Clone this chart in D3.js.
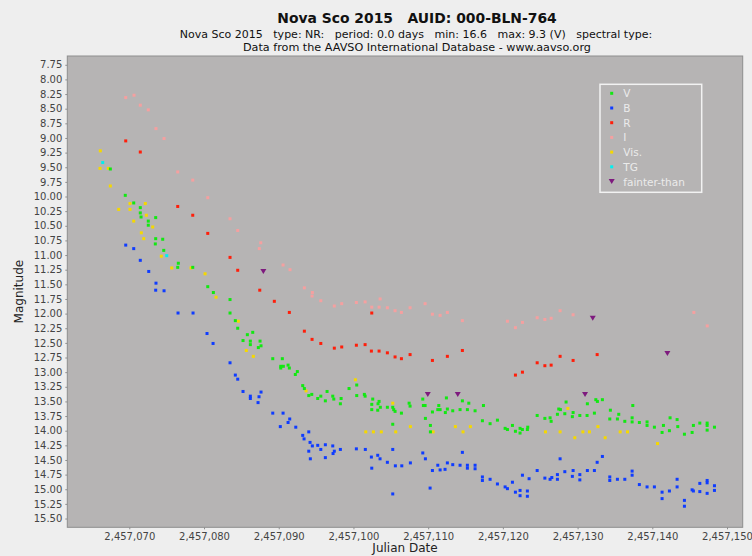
<!DOCTYPE html>
<meta charset="utf-8">
<html lang="en">
<head>
<title>Nova Sco 2015 light curve</title>
<style>
  body { margin: 0; background: #eeeeee; }
  svg { display: block; font-family: "DejaVu Sans", sans-serif; }
</style>
</head>
<body>
<div id="chart"></div>

<script src="https://cdn.jsdelivr.net/npm/d3@7"></script>
<script>
// all dates below are JD - 2457000
const JD0 = 2457000;

// observations per band: [day, magnitude]
var vBand = [[67.46,9.53],[69.46,9.98],[70.59,10.11],[71.47,10.19],[71.47,10.28],[71.57,10.35],[73.53,10.36],[72.54,10.42],[72.54,10.49],
  [73.53,10.72],[74.47,10.73],[73.48,10.81],[74.61,10.92],[76.56,11.14],[76.48,11.21],[78.49,11.21],[80.50,11.54],[81.25,11.64],
  [83.48,11.76],[83.48,11.99],[84.19,12.12],[84.51,12.25],[85.80,12.36],[86.52,12.32],[85.22,12.46],[86.20,12.47],[86.20,12.53],
  [87.50,12.47],[87.63,12.55],[87.27,12.58],[89.20,12.77],[90.48,12.77],[90.27,12.90],[90.27,12.93],[90.62,12.90],[91.25,12.88],
  [91.42,12.93],[92.49,12.99],[92.22,13.04],[93.21,13.23],[93.43,13.28],[94.02,13.40],[94.42,13.38],[95.63,13.41],[95.22,13.45],
  [96.47,13.33],[96.24,13.49],[97.23,13.41],[97.37,13.46],[98.35,13.45],[98.25,13.54],[99.41,13.28],[100.44,13.22],[100.44,13.40],
  [101.46,13.38],[101.56,13.41],[102.58,13.46],[102.45,13.55],[102.45,13.64],[103.43,13.50],[103.29,13.54],[103.60,13.60],
  [103.25,13.65],[104.54,13.60],[105.26,13.60],[105.39,13.64],[105.57,13.67],[106.42,13.70],[107.45,13.53],[107.58,13.58],
  [109.28,13.46],[109.36,13.57],[109.59,13.57],[110.57,13.68],[111.42,13.57],[111.29,13.64],[111.60,13.64],[112.30,13.69],
  [112.44,13.44],[112.57,13.63],[113.29,13.66],[114.27,13.64],[114.58,13.49],[115.25,13.64],[115.44,13.53],[116.28,13.66],
  [109.63,13.79],[110.30,13.91],[105.26,13.89],[110.30,14.02],[117.40,13.57],[117.26,13.83],[118.29,13.88],[119.27,13.82],
  [120.30,13.96],[120.61,13.98],[121.28,13.91],[121.68,14.01],[122.30,13.96],[122.61,13.98],[122.30,14.04],[123.33,13.94],
  [123.28,13.98],[124.59,13.74],[125.62,13.79],[126.32,13.78],[126.46,13.84],[127.30,13.72],[127.48,13.63],[127.70,13.64],
  [128.29,13.71],[128.46,13.51],[129.30,13.76],[129.40,13.69],[130.30,13.74],[131.31,13.54],[131.27,13.74],[132.25,13.70],
  [132.44,13.47],[132.65,13.50],[133.32,13.47],[134.39,13.65],[134.31,13.80],[135.33,13.80],[135.51,13.72],[136.32,13.84],
  [137.30,13.78],[137.30,13.85],[137.39,13.57],[138.27,13.86],[139.30,13.85],[139.30,13.91],[140.28,13.94],[141.31,14.03],
  [141.49,13.91],[142.29,14.00],[142.38,13.78],[143.32,13.81],[143.41,13.93],[144.30,14.06],[145.33,14.03],[145.50,13.91],
  [146.36,13.87],[147.34,13.87],[147.34,13.91],[147.34,13.99],[148.32,13.94]];

var bBand = [[69.52,10.83],[70.59,10.89],[71.47,11.09],[72.60,11.28],[73.57,11.48],[73.53,11.60],[74.65,11.61],[76.52,11.99],
  [78.53,11.99],[80.40,12.34],[81.21,12.51],[83.48,12.84],[84.19,13.05],[84.51,13.12],[85.22,13.33],[86.20,13.41],[86.20,13.45],
  [87.36,13.42],[87.63,13.34],[87.23,13.52],[89.20,13.70],[90.58,13.70],[91.47,13.80],[91.25,13.86],[90.21,13.93],[92.28,13.94],
  [94.02,14.02],[93.21,14.08],[93.39,14.14],[94.19,14.20],[94.50,14.26],[95.22,14.25],[96.24,14.24],[95.63,14.32],[94.02,14.35],
  [94.23,14.48],[96.24,14.46],[97.23,14.26],[97.44,14.35],[97.27,14.39],[98.25,14.32],[100.39,14.31],[101.59,14.32],[102.40,14.45],
  [103.25,14.42],[103.56,14.48],[104.54,14.54],[105.26,14.32],[102.45,14.64],[105.61,14.60],[106.47,14.60],[107.62,14.55],
  [109.28,14.38],[109.63,14.48],[110.57,14.68],[111.29,14.59],[111.60,14.67],[112.26,14.66],[112.57,14.55],[113.29,14.58],
  [114.27,14.59],[114.58,14.37],[115.25,14.59],[115.25,14.64],[116.28,14.59],[116.28,14.65],[105.26,15.08],[110.26,14.98],
  [117.26,14.79],[117.26,14.85],[118.29,14.83],[119.27,14.91],[120.30,14.96],[120.61,14.99],[121.28,14.88],[121.68,15.05],
  [122.30,15.02],[122.30,15.11],[123.28,15.03],[123.28,15.12],[122.62,14.76],[123.51,14.82],[124.59,14.68],[125.62,14.81],
  [126.32,14.83],[126.55,14.80],[127.30,14.75],[127.30,14.83],[127.66,14.48],[128.29,14.70],[129.30,14.78],[129.40,14.68],
  [130.30,14.75],[130.30,14.84],[131.31,14.68],[132.25,14.68],[132.62,14.54],[133.32,14.44],[134.31,14.79],[134.31,14.85],
  [135.33,14.83],[136.32,14.83],[137.30,14.69],[137.30,14.76],[138.27,14.92],[139.30,14.96],[140.28,14.96],[141.31,15.05],
  [141.31,15.16],[142.29,15.03],[143.32,14.83],[143.32,14.96],[144.30,15.19],[144.30,15.29],[145.33,15.01],[145.50,15.03],
  [146.36,14.90],[146.36,15.04],[147.34,14.85],[147.34,14.89],[147.34,15.07],[148.32,14.94],[148.32,15.02]];

var rBand = [[69.52,9.05],[71.47,9.24],[76.48,10.17],[78.49,10.32],[80.50,10.63],[83.48,11.04],[84.51,11.26],[87.46,11.60],
  [89.41,11.79],[91.42,11.98],[93.43,12.30],[94.46,12.44],[95.63,12.51],[97.44,12.59],[98.43,12.57],[100.39,12.54],[101.56,12.53],
  [102.45,11.99],[102.40,12.64],[103.43,12.64],[104.54,12.67],[105.57,12.74],[106.42,12.77],[107.58,12.70],[110.57,12.80],
  [112.57,12.73],[114.58,12.63],[121.68,13.05],[122.62,13.00],[124.59,12.84],[125.62,12.89],[126.46,12.88],[127.66,12.73],
  [129.40,12.80],[132.62,12.70]];

var iBand = [[69.52,8.31],[70.63,8.27],[71.47,8.44],[72.54,8.52],[73.57,8.84],[74.65,9.01],[76.48,9.58],[78.49,9.72],[80.50,10.02],
  [83.48,10.38],[84.51,10.58],[87.59,10.79],[87.40,10.89],[90.58,11.17],[91.51,11.25],[93.43,11.56],[94.50,11.64],[94.46,11.70],
  [95.63,11.78],[97.44,11.87],[98.43,11.83],[100.39,11.81],[101.56,11.80],[102.45,11.89],[103.57,11.75],[103.43,11.89],
  [104.54,11.90],[105.57,11.95],[106.42,11.98],[107.58,11.90],[109.59,11.83],[110.57,12.01],[111.60,12.03],[112.57,11.98],
  [114.58,12.12],[120.61,12.13],[121.68,12.24],[122.62,12.15],[124.59,12.07],[125.62,12.10],[126.46,12.08],[127.66,11.95],
  [129.40,12.02],[145.56,11.98],[147.35,12.21]];

var visual = [[66.12,9.22],[66.08,9.52],[67.19,9.52],[67.46,9.82],[68.58,10.22],[70.09,10.12],[70.09,10.22],[72.14,10.12],
  [72.28,10.32],[70.59,10.42],[73.13,10.52],[71.61,10.62],[71.93,10.72],[74.28,11.02],[75.68,11.22],[78.26,11.22],[80.14,11.32],
  [81.61,11.72],[84.59,12.13],[85.66,12.63],[86.60,12.73],[93.66,13.32],[100.26,13.13],[105.26,13.53],[101.65,14.02],[102.67,14.02],
  [103.73,14.02],[105.66,14.02],[107.62,13.93],[110.66,14.02],[113.64,13.93],[114.67,14.02],[115.65,13.93],[125.70,14.02],
  [127.66,14.02],[128.70,13.62],[129.63,14.12],[130.71,14.02],[131.59,14.02],[132.72,13.93],[133.69,14.12],[135.70,14.02],
  [136.68,14.02],[140.70,14.22]];

var tgBand = [[66.44,9.42],[75.01,11.01]];

var fainter = [[87.94,11.28],[109.95,13.38],[113.96,13.38],[131.00,13.38],[132.03,12.08],[142.02,12.68]];

var seriesNames = ["V", "B", "R", "I", "Vis.", "TG", "fainter-than"];
var xTicks = [2457070, 2457080, 2457090, 2457100, 2457110, 2457120, 2457130, 2457140, 2457150];
var yTicks = [7.75, 8.00, 8.25, 8.50, 8.75, 9.00, 9.25, 9.50, 9.75, 10.00, 10.25, 10.50, 10.75, 11.00, 11.25, 11.50, 11.75,
  12.00, 12.25, 12.50, 12.75, 13.00, 13.25, 13.50, 13.75, 14.00, 14.25, 14.50, 14.75, 15.00, 15.25, 15.50];

// colours for each series, same order as seriesNames
var colors = ["#12e812", "#0f3cff", "#ff1e0a", "#f5a0a0", "#f5d800", "#00f0f0", "#7e1a7e"];
var allSeries = [vBand, bBand, rBand, iBand, visual, tgBand, fainter];

var width = 752, height = 556;
var plot = { left: 67.3, right: 742.7, top: 56, bottom: 527.3 };

var svg = d3.select("#chart").append("svg")
    .attr("width", width)
    .attr("height", height);

svg.append("rect").attr("width", width).attr("height", height).attr("fill", "#eeeeee");

var x = d3.scaleLinear()
    .domain([JD0 + 61.7, JD0 + 152.1])
    .range([plot.left, plot.right]);

// magnitudes grow downward
var y = d3.scaleLinear()
    .domain([7.60, 15.65])
    .range([plot.top, plot.bottom]);

// titles
svg.append("text").attr("x", 417).attr("y", 23).attr("text-anchor", "middle")
    .attr("font-size", 13.9).attr("font-weight", "bold").attr("fill", "#111")
    .attr("xml:space", "preserve")
    .text("Nova Sco 2015   AUID: 000-BLN-764");
svg.append("text").attr("x", 416).attr("y", 38).attr("text-anchor", "middle")
    .attr("font-size", 11).attr("fill", "#111")
    .attr("xml:space", "preserve")
    .text("Nova Sco 2015   type: NR:   period: 0.0 days   min: 16.6   max: 9.3 (V)   spectral type:");
svg.append("text").attr("x", 417).attr("y", 51).attr("text-anchor", "middle")
    .attr("font-size", 11.2).attr("fill", "#111")
    .text("Data from the AAVSO International Database - www.aavso.org");

// plot area
svg.append("rect")
    .attr("x", plot.left).attr("y", plot.top)
    .attr("width", plot.right - plot.left).attr("height", plot.bottom - plot.top)
    .attr("fill", "#b6b4b4")
    .attr("stroke", "#8e8e8e").attr("stroke-width", 1);

// axes
var xAxis = d3.axisBottom(x).tickValues(xTicks).tickFormat(d3.format(",")).tickSize(2).tickPadding(4);
var yAxis = d3.axisLeft(y).tickValues(yTicks).tickFormat(d3.format(".2f")).tickSize(2).tickPadding(3);

var gx = svg.append("g").attr("transform", "translate(0," + plot.bottom + ")").call(xAxis);
var gy = svg.append("g").attr("transform", "translate(" + plot.left + ",0)").call(yAxis);
[gx, gy].forEach(function (g) {
    g.select(".domain").remove();
    g.selectAll("line").attr("stroke", "#8e8e8e");
    g.selectAll("text").attr("font-family", "DejaVu Sans, sans-serif").attr("font-size", 10).attr("fill", "#444");
});

// sits at the very bottom edge, as in the original export
svg.append("text").attr("x", (plot.left + plot.right) / 2).attr("y", 552)
    .attr("text-anchor", "middle").attr("font-size", 12).attr("fill", "#222")
    .text("Julian Date");
svg.append("text")
    .attr("transform", "translate(23," + (plot.top + plot.bottom) / 2 + ")rotate(-90)")
    .attr("text-anchor", "middle").attr("font-size", 12).attr("fill", "#222")
    .text("Magnitude");

// markers: later series first so V ends up on top
var marks = svg.append("g");
var tri = "M-3,-2.5L3,-2.5L0,2.5Z";
for (var s = allSeries.length - 1; s >= 0; s--) {
    var g = marks.append("g").attr("fill", colors[s]);
    if (seriesNames[s] === "fainter-than") {
        g.selectAll("path").data(allSeries[s]).enter().append("path")
            .attr("d", tri)
            .attr("transform", function (d) { return "translate(" + x(JD0 + d[0]) + "," + y(d[1]) + ")"; });
    } else {
        g.selectAll("rect").data(allSeries[s]).enter().append("rect")
            .attr("x", function (d) { return x(JD0 + d[0]) - 1.5; })
            .attr("y", function (d) { return y(d[1]) - 1.5; })
            .attr("width", 3).attr("height", 3);
    }
}

// legend
var legend = svg.append("g").attr("transform", "translate(600,84.3)");
legend.append("rect").attr("width", 101.7).attr("height", 108)
    .attr("fill", "none").attr("stroke", "#f2f2f2").attr("stroke-width", 1.5);
seriesNames.forEach(function (name, i) {
    var row = legend.append("g").attr("transform", "translate(11.7," + (9 + i * 14.7) + ")");
    if (name === "fainter-than") {
        row.append("path").attr("d", tri).attr("fill", colors[i]);
    } else {
        row.append("rect").attr("x", -1.5).attr("y", -1.5).attr("width", 3).attr("height", 3).attr("fill", colors[i]);
    }
    row.append("text").attr("x", 11.6).attr("y", 4).attr("font-size", 10.5).attr("fill", "#ebebeb").text(name);
});
</script>
</body>
</html>
